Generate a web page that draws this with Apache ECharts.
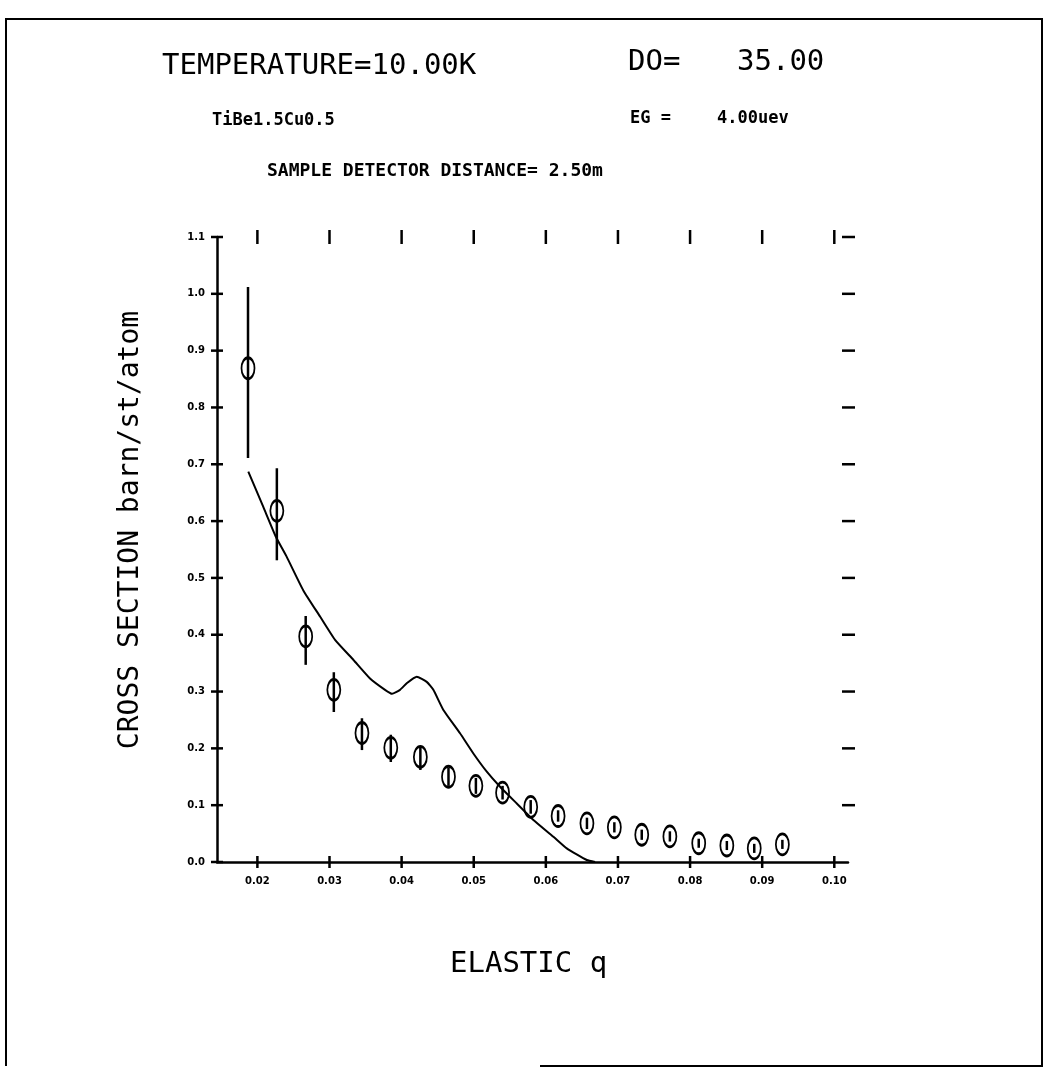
<!DOCTYPE html>
<html>
<head>
<meta charset="utf-8">
<script src="https://cdn.jsdelivr.net/npm/echarts@6/dist/echarts.min.js"></script>
<style>
html,body{margin:0;padding:0;background:#fff;}
#chart{width:1047px;height:1071px;}
</style>
</head>
<body>
<div id="chart"></div>
<script>
// ---- data ----
var xTicks = [0.02, 0.03, 0.04, 0.05, 0.06, 0.07, 0.08, 0.09, 0.10];
var yTicks = [0.0, 0.1, 0.2, 0.3, 0.4, 0.5, 0.6, 0.7, 0.8, 0.9, 1.0, 1.1];

// measured points (elastic q, cross section)
var qPts   = [0.0187, 0.0227, 0.0267, 0.0306, 0.0345, 0.0385, 0.0426, 0.0465, 0.0503, 0.0540,
              0.0579, 0.0617, 0.0657, 0.0695, 0.0733, 0.0772, 0.0812, 0.0851, 0.0889, 0.0928];
var sigma  = [0.869, 0.618, 0.397, 0.303, 0.227, 0.201, 0.185, 0.150, 0.134, 0.122,
              0.097, 0.081, 0.068, 0.061, 0.048, 0.045, 0.033, 0.029, 0.024, 0.031];
var errLo  = [0.711, 0.531, 0.347, 0.264, 0.197, 0.176, 0.162, 0.134, 0.120, 0.110,
              0.085, 0.071, 0.058, 0.052, 0.039, 0.036, 0.025, 0.021, 0.016, 0.023];
var errHi  = [1.012, 0.693, 0.433, 0.334, 0.253, 0.224, 0.204, 0.166, 0.148, 0.134,
              0.109, 0.091, 0.078, 0.070, 0.057, 0.054, 0.041, 0.037, 0.032, 0.039];

// calculated curve
var curveQ = [0.01874, 0.02082, 0.02258, 0.02407, 0.02637, 0.02869, 0.03077, 0.03330, 0.03562, 0.0377,
              0.03867, 0.03978, 0.04075, 0.04210, 0.04348, 0.04440, 0.04579, 0.04810, 0.04995, 0.05181,
              0.05365, 0.05597, 0.05827, 0.06105, 0.06290, 0.06568, 0.06683];
var curveS = [0.687, 0.625, 0.572, 0.537, 0.478, 0.432, 0.391, 0.356, 0.323, 0.303,
              0.296, 0.303, 0.315, 0.326, 0.317, 0.303, 0.2675, 0.2265, 0.191, 0.159,
              0.1325, 0.103, 0.074, 0.0445, 0.024, 0.0035, 0.0];

var xMin = 0.0144, xMax = 0.1019, yMin = 0, yMax = 1.1;

// ---- build option ----
var curveData = curveQ.map(function (q, i) { return [q, curveS[i]]; });
var ptsData = qPts.map(function (q, i) { return [q, sigma[i]]; });
var errData = qPts.map(function (q, i) { return [q, errLo[i], errHi[i]]; });
var xTickData = xTicks.map(function (v) { return [v, yMin]; });
var yTickData = yTicks.map(function (v) { return [xMin, v]; });

var mono = '"DejaVu Sans Mono", monospace';
var blk = { color: '#000', width: 2.5 };
var ellipse = 'path://M5,0 C7.76,0 10,4.48 10,10 C10,15.52 7.76,20 5,20 C2.24,20 0,15.52 0,10 C0,4.48 2.24,0 5,0 Z';

function seg(x1, y1, x2, y2, w) {
  return { type: 'line', shape: { x1: x1, y1: y1, x2: x2, y2: y2 }, style: { stroke: '#000', lineWidth: w } };
}
function txt(x, y, s, font, align) {
  return { type: 'text', x: x, y: y, silent: true,
    style: { text: s, font: font, fill: '#000', textAlign: align || 'left', textVerticalAlign: 'middle',
             align: align || 'left', verticalAlign: 'middle' } };
}

var option = {
  backgroundColor: '#fff',
  animation: false,
  grid: { left: 217, top: 237, width: 631, height: 625, containLabel: false },
  xAxis: {
    type: 'value', min: xMin, max: xMax, position: 'bottom', splitLine: { show: false },
    axisLine: { show: true, onZero: false, lineStyle: blk }, axisTick: { show: false },
    axisLabel: { show: true, customValues: xTicks, margin: 14, color: '#000', fontSize: 10, fontWeight: 'bold',
      fontFamily: '"DejaVu Sans", sans-serif', formatter: function (v) { return v.toFixed(2); } }
  },
  yAxis: {
    type: 'value', min: yMin, max: yMax, position: 'left', splitLine: { show: false },
    axisLine: { show: true, onZero: false, lineStyle: blk }, axisTick: { show: false },
    axisLabel: { show: true, customValues: yTicks, margin: 12, color: '#000', fontSize: 10, fontWeight: 'bold',
      fontFamily: '"DejaVu Sans", sans-serif', formatter: function (v) { return v.toFixed(1); } }
  },
  series: [
    { type: 'line', data: curveData, smooth: 0.15, symbol: 'none',
      lineStyle: { color: '#000', width: 2 }, silent: true, z: 2 },
    { type: 'custom', data: errData, silent: true, z: 3,
      renderItem: function (params, api) {
        var a = api.coord([api.value(0), api.value(1)]);
        var b = api.coord([api.value(0), api.value(2)]);
        return seg(a[0], a[1], b[0], b[1], 2.5);
      } },
    { type: 'scatter', data: ptsData, symbol: ellipse, z: 4,
      symbolSize: [13, 21], symbolKeepAspect: false, silent: true,
      itemStyle: { color: 'rgba(0,0,0,0)', borderColor: '#000', borderWidth: 2.2, opacity: 1 } },
    // tick marks along the bottom (crossing the axis) and along the top (short bars)
    { type: 'custom', data: xTickData, silent: true, clip: false, z: 5,
      renderItem: function (params, api) {
        var b = api.coord([api.value(0), yMin]);
        var t = api.coord([api.value(0), yMax]);
        return { type: 'group', children: [
          seg(b[0], b[1] - 6, b[0], b[1] + 6, 2.5),
          seg(t[0], t[1] - 7, t[0], t[1] + 7, 2.5)
        ] };
      } },
    // tick marks on the left (crossing the axis) and dashes on the right
    { type: 'custom', data: yTickData, silent: true, clip: false, z: 5,
      renderItem: function (params, api) {
        var v = api.value(1);
        var l = api.coord([xMin, v]);
        var r = api.coord([xMax, v]);
        var kids = [seg(l[0] - 6, l[1], l[0] + 6, l[1], 2.5)];
        if (v > 0) kids.push(seg(r[0] - 6, r[1], r[0] + 7, r[1], 2.5));
        return { type: 'group', children: kids };
      } }
  ],
  graphic: [
    { type: 'polyline', silent: true, shape: { points: [[6, 1066], [6, 19], [1042, 19], [1042, 1066], [540, 1066]] },
      style: { stroke: '#000', lineWidth: 2, fill: null } },
    txt(162, 66, 'TEMPERATURE=10.00K', '29px ' + mono),
    txt(628, 62, 'DO=', '29px ' + mono),
    txt(737, 62, '35.00', '29px ' + mono),
    txt(212, 121, 'TiBe1.5Cu0.5', 'bold 17px ' + mono),
    txt(630, 119, 'EG =', 'bold 17px ' + mono),
    txt(717, 119, '4.00uev', 'bold 17px ' + mono),
    txt(267, 171, 'SAMPLE DETECTOR DISTANCE= 2.50m', 'bold 18px ' + mono),
    txt(450, 964, 'ELASTIC q', '29px ' + mono),
    { type: 'text', x: 131, y: 530, rotation: Math.PI / 2, silent: true,
      style: { text: 'CROSS SECTION barn/st/atom', font: '28px ' + mono, fill: '#000',
        textAlign: 'center', textVerticalAlign: 'middle', align: 'center', verticalAlign: 'middle' } }
  ]
};

var chart = echarts.init(document.getElementById('chart'), null, { renderer: 'canvas' });
chart.setOption(option);
</script>
</body>
</html>
